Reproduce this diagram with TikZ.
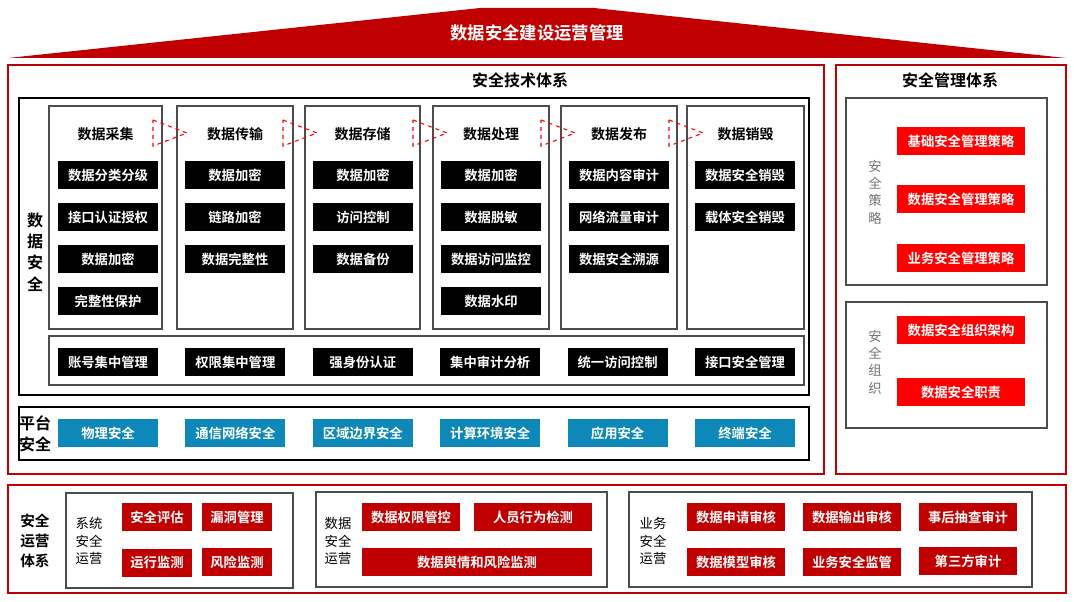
\documentclass[tikz,border=0pt]{standalone}
\usepackage{fontspec}
\setmainfont{Noto Sans CJK SC}
\newfontfamily\cjkb{Noto Sans CJK SC Bold}
\usetikzlibrary{positioning}
\definecolor{dred}{HTML}{C00000}
\definecolor{bred}{HTML}{FF0000}
\definecolor{sblue}{HTML}{0E88B8}
\begin{document}
\begin{tikzpicture}[x=0.75pt,y=-0.75pt,
  lbl/.style={inner sep=0pt,font=\cjkb\fontsize{10.5}{12}\selectfont},
  blk/.style={fill=black,text=white,minimum width=75pt,minimum height=21pt,inner sep=0pt,font=\cjkb\fontsize{10}{12}\selectfont},
  blu/.style={fill=sblue,text=white,minimum width=75pt,minimum height=21pt,inner sep=0pt,font=\cjkb\fontsize{10}{12}\selectfont},
  rd/.style={fill=dred,text=white,minimum height=21pt,inner sep=0pt,font=\cjkb\fontsize{10}{12}\selectfont},
  brd/.style={fill=bred,text=white,minimum width=96pt,minimum height=21pt,inner sep=0pt,font=\cjkb\fontsize{10}{12}\selectfont},
  redbox/.style={draw=dred,line width=1pt},
  grbox/.style={draw=black!70,line width=0.9pt},
  vlab/.style={align=center,inner sep=0pt,font=\fontsize{10}{13}\selectfont}]
\useasboundingbox (0,0) rectangle (1074,602);
% roof
\fill[dred] (8,58) -- (480,8) -- (594,8) -- (1066,58) -- cycle;
\node[lbl,text=white,font=\cjkb\fontsize{13}{15}\selectfont] (roof) at (537,33) {数据安全建设运营管理};
% main panels
\draw[redbox] (8,65) rectangle (824,474);
\draw[redbox] (836,65) rectangle (1066,474);
\draw[redbox] (8,485) rectangle (1066,593);
\node[lbl,font=\cjkb\fontsize{12}{14}\selectfont] (tech) at (520,80) {安全技术体系};
\node[lbl,font=\cjkb\fontsize{12}{14}\selectfont] (mgmt) at (950,80) {安全管理体系};
% data security box
\draw[draw=black,line width=0.8pt] (19,98) rectangle (809,395);
\node[vlab,font=\cjkb\fontsize{12}{16}\selectfont] (ds) at (35,252) {数\\据\\安\\全};
% columns
\foreach \i/\xa/\xb/\t in {1/49/162/数据采集,2/177/293/数据传输,3/305/420/数据存储,4/433/549/数据处理,5/561/677/数据发布,6/687/804/数据销毁}{
  \draw[grbox] (\xa,106) rectangle (\xb,329);
  \node[lbl] (col\i) at ({(\xa+\xb)/2},134) {\t};
}
\foreach \x in {152,282,412,540,668}{
  \draw[bred,dashed,line width=0.8pt] (\x+1,120) -- (\x+35,133) -- (\x+1,146) -- cycle;
}
\foreach \c/\x/\lst in {1/108/{数据分类分级,接口认证授权,数据加密,完整性保护},
  2/235/{数据加密,链路加密,数据完整性},
  3/363/{数据加密,访问控制,数据备份},
  4/491/{数据加密,数据脱敏,数据访问监控,数据水印},
  5/619/{数据内容审计,网络流量审计,数据安全溯源},
  6/745/{数据安全销毁,载体安全销毁}}{
  \foreach \s [count=\k] in \lst {
    \node[blk] (c\c-\k) at (\x,{175+(\k-1)*42}) {\s};
  }
}
% common services
\draw[grbox] (49,336) rectangle (804,385);
\foreach \s [count=\k] in {账号集中管理,权限集中管理,强身份认证,集中审计分析,统一访问控制,接口安全管理}{
  \node[blk] (svc\k) at ({108+(\k-1)*127.4},362) {\s};
}
% platform
\draw[draw=black,line width=0.8pt] (19,407) rectangle (809,460);
\node[vlab,font=\cjkb\fontsize{12}{16}\selectfont] (ps) at (35,434) {平台\\安全};
\foreach \s [count=\k] in {物理安全,通信网络安全,区域边界安全,计算环境安全,应用安全,终端安全}{
  \node[blu] (pl\k) at ({108+(\k-1)*127.4},433) {\s};
}
% management
\draw[grbox] (846,98) rectangle (1047,285);
\node[vlab,text=black!55] (cl) at (875,192) {安\\全\\策\\略};
\foreach \s [count=\k] in {基础安全管理策略,数据安全管理策略,业务安全管理策略}{
  \node[brd] (pol\k) at (961,{141+(\k-1)*58.5}) {\s};
}
\draw[grbox] (846,302) rectangle (1047,428);
\node[vlab,text=black!55] (ol) at (875,362) {安\\全\\组\\织};
\node[brd] (org1) at (961,330) {数据安全组织架构};
\node[brd] (org2) at (961,392) {数据安全职责};
% operations
\node[vlab,font=\cjkb\fontsize{11}{15}\selectfont] (op) at (35,541) {安全\\运营\\体系};
\draw[grbox] (66,493) rectangle (293,588);
\node[vlab] (op1) at (89,541) {系统\\安全\\运营};
\node[rd,minimum width=53pt] (a1) at (157,517) {安全评估};
\node[rd,minimum width=53pt] (a2) at (237,517) {漏洞管理};
\node[rd,minimum width=53pt] (a3) at (157,563) {运行监测};
\node[rd,minimum width=53pt] (a4) at (237,562) {风险监测};
\draw[grbox] (316,492) rectangle (607,587);
\node[vlab] (op2) at (338,541) {数据\\安全\\运营};
\node[rd,minimum width=74pt] (b1) at (411,517) {数据权限管控};
\node[rd,minimum width=88pt] (b2) at (533,517) {人员行为检测};
\node[rd,minimum width=173pt] (b3) at (477,562) {数据舆情和风险监测};
\draw[grbox] (629,492) rectangle (1032,587);
\node[vlab] (op3) at (653,541) {业务\\安全\\运营};
\foreach \s/\x/\y [count=\k] in {数据申请审核/736/517,数据输出审核/852/517,事后抽查审计/968/517,数据模型审核/736/562,业务安全监管/852/562,第三方审计/968/561}{
  \node[rd,minimum width=74pt] (c\k) at (\x,\y) {\s};
}
\end{tikzpicture}
\end{document}
